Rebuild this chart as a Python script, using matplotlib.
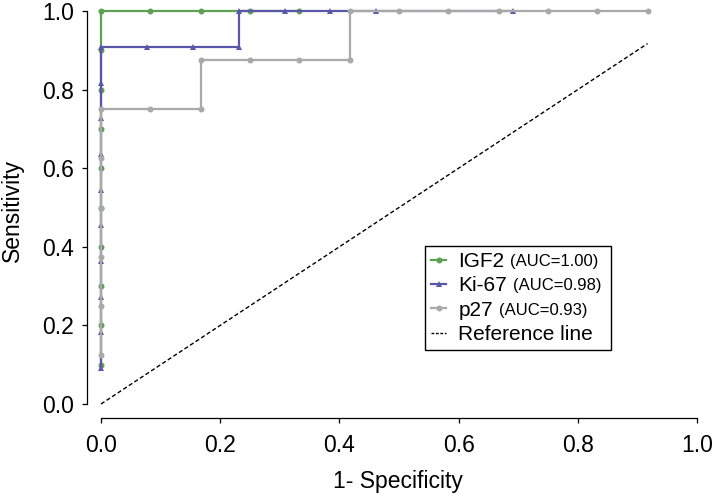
import matplotlib
matplotlib.use("Agg")
import matplotlib.pyplot as plt
from matplotlib.lines import Line2D

plt.rcParams["font.family"] = ["Liberation Sans", "DejaVu Sans"]

# ROC points (1 - specificity, sensitivity)
igf2_fpr = [0, 0, 0, 0, 0, 0, 0, 0, 0, 0, 0.083, 0.167, 0.25, 0.333]
igf2_tpr = [0.1, 0.2, 0.3, 0.4, 0.5, 0.6, 0.7, 0.8, 0.9, 1.0, 1.0, 1.0, 1.0, 1.0]

ki67_fpr = [0, 0, 0, 0, 0, 0, 0, 0, 0, 0,
            0.077, 0.154, 0.231, 0.231, 0.308, 0.385, 0.462, 0.692]
ki67_tpr = [0.091, 0.182, 0.273, 0.364, 0.455, 0.545, 0.636, 0.727, 0.818, 0.909,
            0.909, 0.909, 0.909, 1.0, 1.0, 1.0, 1.0, 1.0]

p27_fpr = [0, 0, 0, 0, 0, 0, 0.083, 0.167, 0.167, 0.25, 0.333, 0.417, 0.417,
           0.5, 0.583, 0.667, 0.75, 0.833, 0.917]
p27_tpr = [0.125, 0.25, 0.375, 0.5, 0.625, 0.75, 0.75, 0.75, 0.875, 0.875, 0.875,
           0.875, 1.0, 1.0, 1.0, 1.0, 1.0, 1.0, 1.0]

ref_x = [0, 0.917]
ref_y = [0, 0.917]

names = ["IGF2", "Ki-67", "p27"]
aucs = ["(AUC=1.00)", "(AUC=0.98)", "(AUC=0.93)"]
colors = ["#5fa055", "#5b57a8", "#a9a9a9"]
markers = ["o", "^", "o"]

W, H = 715, 496
fig = plt.figure(figsize=(W / 100, H / 100), dpi=100)

# place axes so that data 0/1 land on the reference pixels
px0, px1 = 101, 697
py0, py1 = 404, 11
xlim = (-0.0235, 1.02)
ylim = (-0.036, 1.02)
left = px0 + xlim[0] * (px1 - px0)
right = px0 + xlim[1] * (px1 - px0)
bottom = py0 - ylim[0] * (py0 - py1)
top = py0 - ylim[1] * (py0 - py1)
ax = fig.add_axes([left / W, 1 - bottom / H, (right - left) / W, (bottom - top) / H])

series = [(igf2_fpr, igf2_tpr), (ki67_fpr, ki67_tpr), (p27_fpr, p27_tpr)]
handles = []
for (fx, ty), c, m in zip(series, colors, markers):
    ax.plot(fx, ty, color=c, lw=1.6, marker=m, markersize=4.3, markeredgewidth=0)
    handles.append(Line2D([], [], color=c, lw=1.6, marker=m, markersize=4.3,
                          markeredgewidth=0))
ax.plot(ref_x, ref_y, color="black", lw=1.0, ls=(0, (3, 1.8)))
handles.append(Line2D([], [], color="black", lw=1.0, ls=(0, (2, 1.2))))

ax.set_xlim(*xlim)
ax.set_ylim(*ylim)
ticks = [0.0, 0.2, 0.4, 0.6, 0.8, 1.0]
ax.set_xticks(ticks)
ax.set_yticks(ticks)
ax.set_xticklabels([f"{t:.1f}" for t in ticks])
ax.set_yticklabels([f"{t:.1f}" for t in ticks])
ax.tick_params(direction="out", length=3.5, width=0.9, labelsize=16.5)
ax.tick_params(axis="x", pad=8)
ax.tick_params(axis="y", pad=6)

for s in ["top", "right"]:
    ax.spines[s].set_visible(False)
ax.spines["left"].set_bounds(0, 1)
ax.spines["bottom"].set_bounds(0, 1)
ax.spines["left"].set_linewidth(0.9)
ax.spines["bottom"].set_linewidth(0.9)

ax.set_xlabel("1- Specificity", fontsize=16.5, labelpad=9)
ax.set_ylabel("Sensitivity", fontsize=16.5, labelpad=13)

labels = names + ["Reference line\u00a0\u00a0"]
leg = ax.legend(handles, labels, loc="upper left",
                bbox_to_anchor=(425 / W, 1 - 246 / H), bbox_transform=fig.transFigure,
                fontsize=15, handlelength=0.7, handletextpad=0.6,
                labelspacing=0.25, borderpad=0.3, borderaxespad=0,
                fancybox=False, framealpha=1, edgecolor="black")
leg.get_frame().set_linewidth(1.0)

for txt, auc in zip(leg.get_texts()[:3], aucs):
    ax.annotate(auc, xy=(1, 0), xycoords=txt, xytext=(4, 1.5),
                textcoords="offset points", va="bottom", ha="left",
                fontsize=12, zorder=10)

fig.savefig("out.png", dpi=100)
